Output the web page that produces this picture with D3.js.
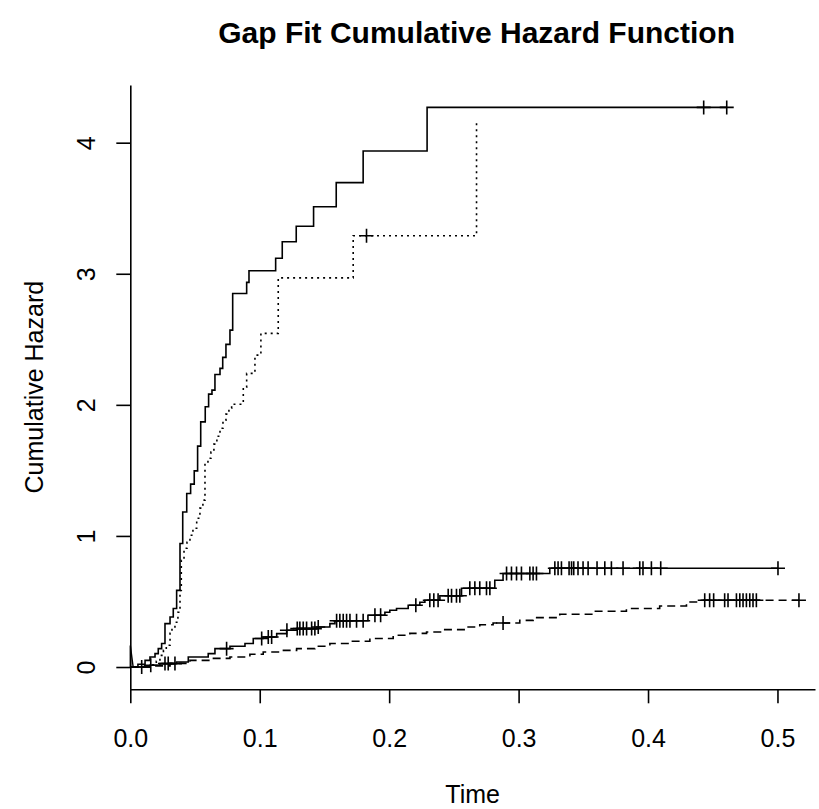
<!DOCTYPE html>
<html>
<head>
<meta charset="utf-8">
<script src="https://cdn.jsdelivr.net/npm/d3@7"></script>
<style>
body { margin: 0; background: #fff; }
text { font-family: "Liberation Sans", Arial, Helvetica, sans-serif; fill: #000; }
</style>
</head>
<body>
<div id="chart"></div>
<script>
// stratum 1: solid, steep
var timeA = [0, 0.0059, 0.0114, 0.0152, 0.0191, 0.0216, 0.0242, 0.0268, 0.0307, 0.0332, 0.0358,
  0.0384, 0.0405, 0.0436, 0.0466, 0.0494, 0.0520, 0.0544, 0.0579, 0.0605, 0.0631, 0.0654,
  0.0693, 0.0714, 0.0739, 0.0770, 0.0791, 0.0899, 0.0917, 0.1123, 0.1174, 0.1282, 0.1416,
  0.1591, 0.1799, 0.2293, 0.4608];
var hazA = [0, 0.021, 0.051, 0.076, 0.102, 0.140, 0.179, 0.331, 0.382, 0.446, 0.585,
  0.942, 1.183, 1.324, 1.395, 1.496, 1.685, 1.870, 1.985, 2.082, 2.112, 2.232,
  2.278, 2.362, 2.461, 2.570, 2.850, 2.934, 3.023, 3.118, 3.244, 3.363, 3.511,
  3.695, 3.937, 4.269, 4.269];
var censA = [0.4430, 0.4608];

// stratum 2: dotted, steep
var timeB = [0, 0.0168, 0.0201, 0.0229, 0.0256, 0.0278, 0.0307, 0.0322, 0.0345, 0.0368, 0.0384,
  0.0394, 0.0415, 0.0438, 0.0461, 0.0484, 0.0513, 0.0538, 0.0561, 0.0577, 0.0600, 0.0623,
  0.0646, 0.0669, 0.0693, 0.0716, 0.0739, 0.0762, 0.0783, 0.0873, 0.0899, 0.0963, 0.1009,
  0.1143, 0.1722, 0.2675];
var hazB = [0, 0.017, 0.044, 0.089, 0.127, 0.166, 0.257, 0.295, 0.341, 0.418, 0.585,
  0.815, 0.906, 0.952, 1.005, 1.059, 1.135, 1.212, 1.273, 1.555, 1.593, 1.639,
  1.700, 1.761, 1.822, 1.883, 1.929, 1.975, 2.005, 2.135, 2.240, 2.379, 2.545,
  2.969, 3.290, 4.156];
var censB = [0.1825];

// stratum 3: solid, low
var timeC = [0, 0.0152, 0.0229, 0.0358, 0.0448, 0.0602, 0.0654, 0.0770, 0.0886, 0.0950, 0.1027,
  0.1131, 0.1208, 0.1285, 0.1439, 0.1542, 0.1581, 0.1836, 0.1967, 0.2005, 0.2057, 0.2147,
  0.2237, 0.2276, 0.2392, 0.2559, 0.2816, 0.2880, 0.3241, 0.5004];
var hazC = [0, 0.013, 0.026, 0.038, 0.076, 0.102, 0.140, 0.158, 0.179, 0.217, 0.229,
  0.255, 0.280, 0.293, 0.305, 0.331, 0.353, 0.395, 0.418, 0.433, 0.446, 0.471,
  0.494, 0.509, 0.544, 0.601, 0.662, 0.713, 0.753, 0.753];
var censC = [0.0088, 0.0158, 0.0268, 0.0293, 0.0345, 0.0744, 0.1015, 0.1066, 0.1092, 0.1210,
  0.1290, 0.1310, 0.1336, 0.1362, 0.1401, 0.1426, 0.1452, 0.1594, 0.1619, 0.1645, 0.1671,
  0.1697, 0.1748, 0.1799, 0.1890, 0.1934, 0.2206, 0.2314, 0.2345, 0.2378, 0.2456, 0.2482,
  0.2520, 0.2546, 0.2623, 0.2662, 0.2700, 0.2752, 0.2778, 0.2907, 0.2945, 0.2984, 0.3022,
  0.3087, 0.3112, 0.3138, 0.3280, 0.3305, 0.3331, 0.3390, 0.3409, 0.3426, 0.3459, 0.3498,
  0.3537, 0.3606, 0.3666, 0.3717, 0.3807, 0.3936, 0.3961, 0.4026, 0.4098, 0.5004];

// stratum 4: dashed, low
var timeD = [0, 0.0152, 0.0307, 0.0461, 0.0615, 0.0770, 0.0924, 0.1027, 0.1156, 0.1285, 0.1426,
  0.1542, 0.1697, 0.1851, 0.2031, 0.2160, 0.2289, 0.2417, 0.2598, 0.2700, 0.2803, 0.3009,
  0.3112, 0.3318, 0.3575, 0.3833, 0.4090, 0.4297, 0.4399, 0.5166];
var hazD = [0, 0.009, 0.028, 0.051, 0.066, 0.076, 0.097, 0.115, 0.127, 0.140, 0.158,
  0.179, 0.196, 0.217, 0.242, 0.257, 0.267, 0.285, 0.305, 0.322, 0.336, 0.356,
  0.377, 0.402, 0.425, 0.446, 0.466, 0.496, 0.509, 0.509];
var censD = [0.2880, 0.4438, 0.4476, 0.4507, 0.4592, 0.4618, 0.4683, 0.4709, 0.4734, 0.4760,
  0.4786, 0.4811, 0.4837, 0.5166];

// little spike at the origin
var spikeTime = [0, 0, 0.0022];
var spikeHaz = [0, 0.165, 0];

var xTicks = [0, 0.1, 0.2, 0.3, 0.4, 0.5];
var yTicks = [0, 1, 2, 3, 4];

var width = 819, height = 809;
var plot = { left: 130.3, right: 815, top: 85, bottom: 689.3 };

var svg = d3.select("#chart").append("svg")
  .attr("width", width)
  .attr("height", height);

var x = d3.scaleLinear()
  .domain([0, 0.529])
  .range([plot.left, plot.right]);

var y = d3.scaleLinear()
  .domain([-0.17, 4.44])
  .range([plot.bottom, plot.top]);

var cx = (plot.left + plot.right) / 2;

svg.append("text")
  .attr("x", cx + 4)
  .attr("y", 43)
  .attr("text-anchor", "middle")
  .style("font-size", "30px")
  .style("font-weight", "bold")
  .text("Gap Fit Cumulative Hazard Function");

// axes
var xAxis = svg.append("g")
  .attr("transform", "translate(0," + plot.bottom + ")")
  .call(d3.axisBottom(x).tickValues(xTicks).tickSize(14).tickSizeOuter(0).tickFormat(d3.format(".1f")));

xAxis.selectAll("text")
  .attr("y", 58)
  .attr("dy", 0)
  .style("font-size", "25px");

var yAxis = svg.append("g")
  .attr("transform", "translate(" + plot.left + ",0)")
  .call(d3.axisLeft(y).tickValues(yTicks).tickSize(14).tickSizeOuter(0).tickFormat(d3.format("d")));

yAxis.selectAll("text")
  .attr("x", 0)
  .attr("y", 0)
  .attr("dy", 0)
  .attr("text-anchor", "middle")
  .attr("transform", "translate(-35,0) rotate(-90)")
  .style("font-size", "25px");

svg.selectAll(".domain, .tick line")
  .attr("stroke", "#000")
  .attr("stroke-width", 1.6);

svg.append("text")
  .attr("x", cx)
  .attr("y", 803)
  .attr("text-anchor", "middle")
  .style("font-size", "25px")
  .text("Time");

svg.append("text")
  .attr("transform", "translate(43," + ((plot.top + plot.bottom) / 2) + ") rotate(-90)")
  .attr("text-anchor", "middle")
  .style("font-size", "25px")
  .text("Cumulative Hazard");

// curves
var stepLine = d3.line()
  .x(function(d) { return x(d[0]); })
  .y(function(d) { return y(d[1]); })
  .curve(d3.curveStepAfter);

var strata = [
  { time: timeA, haz: hazA, cens: censA, dash: null },
  { time: timeB, haz: hazB, cens: censB, dash: "2,4" },
  { time: timeC, haz: hazC, cens: censC, dash: null },
  { time: timeD, haz: hazD, cens: censD, dash: "8,5" }
];

var curves = svg.append("g");

strata.forEach(function(s) {
  var pts = s.time.map(function(t, i) { return [t, s.haz[i]]; });

  curves.append("path")
    .datum(pts)
    .attr("fill", "none")
    .attr("stroke", "#000")
    .attr("stroke-width", 1.6)
    .attr("stroke-dasharray", s.dash)
    .attr("d", stepLine);

  // censor marks sit on the step value at that time
  var bis = d3.bisector(function(d) { return d; }).right;
  var marks = s.cens.map(function(t) {
    var i = Math.max(0, bis(s.time, t) - 1);
    return [t, s.haz[i]];
  });

  curves.selectAll(null)
    .data(marks)
    .enter().append("path")
    .attr("fill", "none")
    .attr("stroke", "#000")
    .attr("stroke-width", 1.6)
    .attr("d", function(d) {
      var px = x(d[0]), py = y(d[1]);
      return "M" + (px - 7) + "," + py + "H" + (px + 7) + "M" + px + "," + (py - 7) + "V" + (py + 7);
    });
});

curves.append("path")
  .datum(spikeTime.map(function(t, i) { return [t, spikeHaz[i]]; }))
  .attr("fill", "none")
  .attr("stroke", "#000")
  .attr("stroke-width", 1.4)
  .attr("d", d3.line()
    .x(function(d) { return x(d[0]); })
    .y(function(d) { return y(d[1]); }));
</script>
</body>
</html>
